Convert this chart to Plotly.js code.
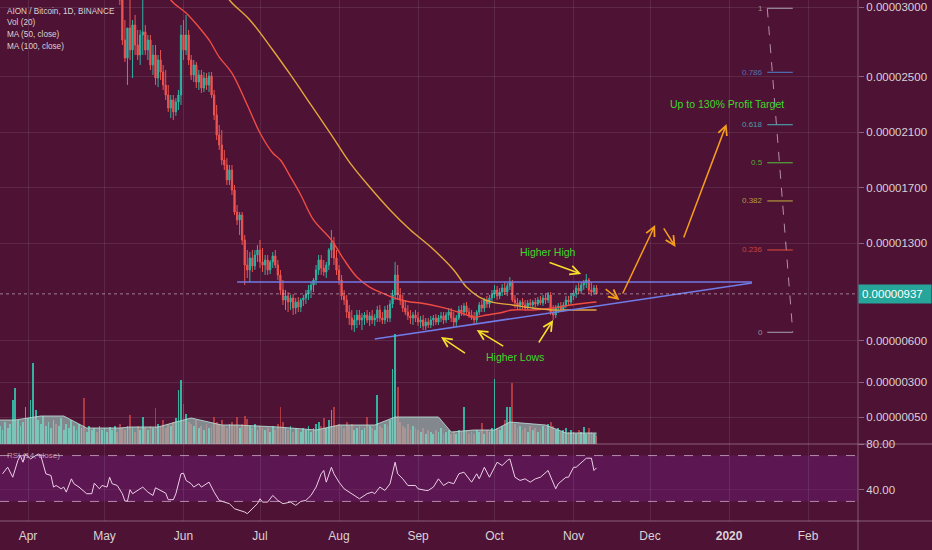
<!DOCTYPE html>
<html><head><meta charset="utf-8">
<script src="https://cdn.plot.ly/plotly-3.0.1.min.js"></script>
<style>html,body{margin:0;padding:0;background:#4e1234;}#chart{width:932px;height:550px;}</style>
</head><body><div id="chart"></div>
<script>
// ---------- DATA (prices in satoshi, 1 sat = 0.00000001 BTC) ----------
const candleStart = '2019-05-06';
const candleOpen = [3269,3161,3053,2765,2635,2851,2693,2873,2729,2657,2801,2823,2693,2765,2585,2657,2491,2621,2534,2441,2369,2275,2333,2247,2318,2369,
2801,2693,2801,2621,2513,2585,2462,2513,2419,2491,2441,2506,2369,2225,2081,2009,1901,1865,1757,1829,1685,1526,1469,1505,1325,1145,1109,1195,1138,1217,
1253,1167,1145,1181,1109,1167,1210,1145,1073,965,893,922,878,907,835,878,842,893,907,936,965,1001,1037,1109,1181,1123,1094,1145,1253,1303,1195,
1109,1037,922,893,806,763,713,749,785,749,763,785,749,778,749,763,821,763,749,821,763,864,929,1073,929,893,835,806,778,763,785,
763,734,749,706,734,713,749,763,734,763,778,749,785,806,763,734,763,821,806,850,806,785,763,749,806,857,835,893,864,907,
936,965,922,950,979,950,994,1022,893,871,850,878,857,835,871,857,878,864,893,871,907,893,929,806,785,835,850,828,857,893,878,
922,943,979,958,1001,1015,1037,965,950,979];
const candleHigh = [3341,3233,3125,2909,2801,3053,2909,2945,2837,2837,3053,2873,2801,2801,2729,2729,2657,2693,2585,2549,2441,2369,2369,2347,2405,2873,
2909,2945,2837,2657,2621,2607,2549,2549,2534,2527,2534,2534,2405,2297,2153,2117,1973,1915,1865,1865,1721,1577,1526,1526,1361,1253,1238,1253,1253,1289,
1325,1267,1217,1217,1181,1238,1253,1181,1109,1037,965,950,929,936,907,914,907,929,965,1001,1022,1051,1145,1217,1217,1181,1167,1267,1397,1347,1253,
1145,1073,965,929,857,821,785,821,821,799,806,821,806,821,792,850,857,806,850,857,893,965,1167,1145,979,929,893,857,821,806,821,
806,778,785,763,763,778,785,792,785,806,806,806,835,835,806,785,850,857,871,878,835,821,806,821,878,893,907,922,929,965,
1001,994,979,1008,1022,1015,1058,1037,929,907,893,907,893,893,900,893,907,914,922,929,943,950,950,857,857,871,878,878,922,922,943,
965,1001,1015,1022,1037,1080,1051,1022,1001,1001];
const candleLow = [3089,3017,2729,2607,2441,2621,2491,2657,2621,2585,2657,2657,2621,2549,2513,2441,2426,2477,2405,2333,2247,2203,2189,2218,2261,2297,
2621,2657,2585,2477,2462,2419,2405,2383,2390,2405,2390,2347,2189,2045,1973,1865,1829,1721,1721,1649,1505,1433,1361,1289,1001,1051,1022,1094,1109,1167,
1123,1094,1073,1073,1080,1123,1123,1037,929,857,821,806,821,785,792,806,806,850,864,893,907,950,1001,1073,1073,1066,1051,1109,1195,1145,1073,
1001,893,857,763,713,677,662,691,713,677,713,727,706,720,706,734,734,720,720,734,734,835,893,893,857,806,785,749,720,713,734,
706,691,677,677,691,691,706,713,713,734,720,727,749,734,698,706,749,778,778,785,763,749,720,727,785,806,806,835,835,871,
907,893,900,922,929,922,965,878,835,821,821,828,814,821,835,828,842,850,857,850,864,871,785,749,763,799,806,806,835,850,857,
893,907,936,936,965,979,936,922,929,936];
const candleClose = [3161,3053,2765,2635,2851,2693,2873,2729,2657,2801,2823,2693,2765,2585,2657,2491,2621,2534,2441,2369,2275,2333,2247,2318,2369,2801,
2693,2801,2621,2513,2585,2462,2513,2419,2491,2441,2506,2369,2225,2081,2009,1901,1865,1757,1829,1685,1526,1469,1505,1325,1145,1109,1195,1138,1217,1253,
1167,1145,1181,1109,1167,1210,1145,1073,965,893,922,878,907,835,878,842,893,907,936,965,1001,1037,1109,1181,1123,1094,1145,1253,1303,1195,1109,
1037,922,893,806,763,713,749,785,749,763,785,749,778,749,763,821,763,749,821,763,864,929,1073,929,893,835,806,778,763,785,763,
734,749,706,734,713,749,763,734,763,778,749,785,806,763,734,763,821,806,850,806,785,763,749,806,857,835,893,864,907,936,
965,922,950,979,950,994,1022,893,871,850,878,857,835,871,857,878,864,893,871,907,893,929,806,785,835,850,828,857,893,878,922,
943,979,958,1001,1015,1037,965,950,979,937];

const volStart = '2019-03-21';
const volume = [9,7,11,8,10,22,28,12,9,11,18.5,
13,22,40.5,17,12,10,14,9,11,8,12,10,9,13,7,10,8,12,9,7,10,8,23,6,9,7,8,6,9,7,
8,6,8.5,7,9,6,10,8,7,9,14.5,8,6,9,7,13.5,8,7,9,8,18,10,9,12,8,10,9,11,13,27,32,
20,15,11,10,9,12,8,9,7,10,8,9,13.5,11,10,12,9,8,10,11,9,13.5,8,10,14,12.5,9,8,10,7,
9,8,7,8,6,9,7,10,18.5,11,8,7,9,6,8,7,6,8,7,9,6,8,10,11,9,13,8,12,17,18.5,9,
10,9,8,11,9,10,7,8,9,7,8,13.5,9,8,7,24.5,9,8,10,9,12,37.5,55,28.5,11,9,8,10,7,9,8,
7,6,8,5,7,6,5,7,6,8,5,6,7,5,6,5,7,6,18.5,7,5,6,5,7,6,10.5,5,7,6,8,
32.5,8,7,9,12,18.5,18.5,30.5,10,8,9,7,8,6,9,7,8,6,7,9,8,10,11,9,7,8,6,7,8,6,7,
6,5,7,6,8.5,5,8,6,5,4];
const earlyDownDays = ['2019-04-12','2019-04-23','2019-04-28'];

const volMaDates = ['2019-03-21','2019-03-27','2019-04-06','2019-04-15','2019-04-24','2019-05-07','2019-05-11','2019-05-22','2019-05-29','2019-06-04','2019-06-16','2019-06-22','2019-07-08','2019-07-23','2019-08-01','2019-08-15','2019-08-23','2019-09-09','2019-09-14','2019-09-23','2019-10-01','2019-10-07','2019-10-21','2019-10-29','2019-11-10'];
const volMaValues = [12,12,14,14,8,8,8.5,8.5,11,13,9.5,9.5,8.5,7,9.5,9.5,13.5,13.5,6,7,7,11,9.5,5.5,5.5];

const ma50Dates = ['2019-05-22','2019-05-27','2019-06-02','2019-06-07','2019-06-11','2019-06-15','2019-06-20','2019-06-26','2019-07-01','2019-07-06','2019-07-09','2019-07-13','2019-07-17','2019-07-22','2019-07-29','2019-08-03','2019-08-08','2019-08-13','2019-08-18','2019-08-24','2019-08-29','2019-09-02','2019-09-10','2019-09-18','2019-09-23','2019-09-28','2019-10-03','2019-10-08','2019-10-16','2019-10-24','2019-10-31','2019-11-06','2019-11-10'];
const ma50Values = [3233,3053,2959,2858,2765,2642,2527,2297,2095,1951,1901,1778,1649,1469,1325,1181,1058,986,943,900,878,871,842,799,770,785,799,821,821,835,857,871,878];

const ma100Dates = ['2019-06-13','2019-06-19','2019-06-27','2019-07-06','2019-07-13','2019-07-21','2019-07-29','2019-08-05','2019-08-13','2019-08-21','2019-08-29','2019-09-06','2019-09-15','2019-09-20','2019-09-25','2019-09-30','2019-10-08','2019-10-16','2019-10-24','2019-10-31','2019-11-10'];
const ma100Values = [3233,3053,2909,2693,2513,2297,2081,1887,1706,1541,1397,1274,1109,986,914,878,857,835,821,821,821];

const rsiDates = ['2019-03-22','2019-03-24','2019-03-26','2019-03-28','2019-03-29','2019-03-30','2019-03-31','2019-04-02','2019-04-03','2019-04-05','2019-04-06','2019-04-08','2019-04-10','2019-04-11','2019-04-12','2019-04-14','2019-04-15','2019-04-16','2019-04-18','2019-04-19','2019-04-21','2019-04-24','2019-04-26','2019-04-27','2019-04-29','2019-04-30',
'2019-05-02','2019-05-03','2019-05-04','2019-05-06','2019-05-08','2019-05-09','2019-05-10','2019-05-11','2019-05-12','2019-05-14','2019-05-16','2019-05-18','2019-05-20','2019-05-21','2019-05-23','2019-05-25','2019-05-26','2019-05-28','2019-05-29','2019-05-31',
'2019-06-01','2019-06-02','2019-06-04','2019-06-05','2019-06-07','2019-06-08','2019-06-09','2019-06-11','2019-06-13','2019-06-15','2019-06-17','2019-06-19','2019-06-21','2019-06-23','2019-06-25','2019-06-26','2019-06-27','2019-06-28','2019-06-30',
'2019-07-01','2019-07-02','2019-07-04','2019-07-06','2019-07-08','2019-07-10','2019-07-13','2019-07-15','2019-07-17','2019-07-19','2019-07-21','2019-07-23','2019-07-25','2019-07-26','2019-07-27','2019-07-29','2019-07-30',
'2019-08-01','2019-08-03','2019-08-05','2019-08-08','2019-08-09','2019-08-12','2019-08-14','2019-08-15','2019-08-17','2019-08-19','2019-08-21','2019-08-23','2019-08-24','2019-08-26','2019-08-28','2019-08-31',
'2019-09-01','2019-09-04','2019-09-05','2019-09-07','2019-09-09','2019-09-11','2019-09-13','2019-09-15','2019-09-17','2019-09-19','2019-09-20','2019-09-22','2019-09-24','2019-09-25','2019-09-27','2019-09-29',
'2019-10-02','2019-10-04','2019-10-06','2019-10-07','2019-10-09','2019-10-11','2019-10-13','2019-10-15','2019-10-17','2019-10-19','2019-10-22','2019-10-23','2019-10-25','2019-10-26','2019-10-29','2019-10-30',
'2019-11-01','2019-11-02','2019-11-04','2019-11-06','2019-11-08','2019-11-09','2019-11-10'];
const rsiValues = [54.1,59.9,51.1,65.7,70,64.2,71.4,67.1,68.6,71.4,70,54.1,52.6,42.5,43.9,41,42.5,38.1,49.7,45.4,42.5,36.7,36.7,45.9,41,43.9,
42.5,51.1,45.4,43.9,36.7,30.3,30.3,40.2,36.7,39.6,42.5,38.1,35.2,41.9,39.6,37.2,31.5,31.5,36.7,54.1,
54.6,48.3,45.4,42.5,45.4,42.5,43.9,46.8,38.1,30.9,29.4,28,23.6,22.2,20.7,19.3,21.6,23.6,28,
32.3,29.4,29.4,35.2,30.9,28,29.4,26.5,30,30.9,35.2,42.5,54.1,57,46.8,59.8,54.1,
46.8,41,38.1,33.7,32.3,36.7,38.1,36.7,42.5,39.6,45.4,64.2,54.1,49.7,43.9,43.9,
41,39.6,39.6,42.5,49.7,43.9,46.8,45.4,54.1,55.5,52.6,46.8,54.1,49.7,59.8,51.1,
64.2,61.3,65.7,67.1,51.1,48.3,49.7,46.8,49.7,51.1,57,51.1,41,45.4,51.1,51.1,
59.8,59.8,64.2,67.7,67.7,57,59.3];

const lastPrice = 937;
const priceTicks = [50,300,600,1300,1700,2100,2500,3000];
const monthTicks = ['2019-04-01','2019-05-01','2019-06-01','2019-07-01','2019-08-01','2019-09-01','2019-10-01','2019-11-01','2019-12-01','2020-01-01','2020-02-01'];
const monthLabels = ['Apr','May','Jun','Jul','Aug','Sep','Oct','Nov','Dec','<b>2020</b>','Feb'];

const resistDates = ['2019-06-22','2020-01-10'];
const resistValues = [1022,1022];
const supportDates = ['2019-08-15','2020-01-10'];
const supportValues = [612,1015];

const fibDates = ['2020-01-16','2020-01-26'];
const fibLabels = ['1','0.786','0.618','0.5','0.382','0.236','0'];
const fibValues = [2993,2532,2155,1881,1606,1253,660];
const fibDiagonal = [2993,660];

// [fromDate, fromValue, toDate, toValue]
const orangeArrows = [['2019-11-13',979,'2019-11-19',893],['2019-11-20',929,'2019-12-03',1433],['2019-12-06',1419,'2019-12-11',1274],['2019-12-14',1332,'2019-12-31',2160]];
const yellowArrows = [['2019-10-22',1167,'2019-11-04',1080],['2019-09-20',504,'2019-09-10',626],['2019-10-05',554,'2019-09-24',677],['2019-10-18',576,'2019-10-24',749]];
const noteTexts = ['Higher High','Higher Lows','Up to 130% Profit Target'];
const noteDates = ['2019-10-22','2019-10-09','2019-12-31'];
const noteValues = [1240,484,2302];

const legendLines = ['AION / Bitcoin, 1D, BINANCE','Vol (20)','MA (50, close)','MA (100, close)'];

// ---------- STYLE ----------
const SAT = 1e-8;
const BG = '#4e1234';
const GRID = 'rgba(255,255,255,0.09)';
const TXT = '#d9d1d6';
const UP = '#2db3a1', DOWN = '#ee5450';
const FONT = 'Liberation Sans, Arial, sans-serif';
const fibColors = ['#9a8e9e','#4f72b8','#4a9aa8','#56a83a','#b39a3e','#c8433c','#9a8e9e'];

function dayList(start, n){
  const t0 = Date.parse(start + 'T00:00:00Z'); const a = [];
  for (let i = 0; i < n; i++) a.push(new Date(t0 + i*864e5).toISOString().slice(0,10));
  return a;
}
const sats = arr => arr.map(v => v*SAT);

const candleDates = dayList(candleStart, candleClose.length);
const volDates = dayList(volStart, volume.length);
const volColors = volDates.map(d => {
  const i = candleDates.indexOf(d);
  let up;
  if (i >= 0) up = candleClose[i] >= candleOpen[i];
  else up = earlyDownDays.indexOf(d) < 0;
  return up ? 'rgba(52,195,172,0.9)' : 'rgba(215,70,72,0.72)';
});

const traces = [];
traces.push({type:'candlestick', x:candleDates, open:sats(candleOpen), high:sats(candleHigh), low:sats(candleLow), close:sats(candleClose),
  xaxis:'x', yaxis:'y', whiskerwidth:0,
  increasing:{line:{color:UP,width:1}, fillcolor:UP}, decreasing:{line:{color:DOWN,width:1}, fillcolor:DOWN}, hoverinfo:'skip'});
traces.push({type:'scatter', mode:'lines', x:ma50Dates, y:sats(ma50Values), line:{color:'#f04c43', width:1.4, shape:'spline'}, xaxis:'x', yaxis:'y', hoverinfo:'skip'});
traces.push({type:'scatter', mode:'lines', x:ma100Dates, y:sats(ma100Values), line:{color:'#e2a63c', width:1.4, shape:'spline'}, xaxis:'x', yaxis:'y', hoverinfo:'skip'});
traces.push({type:'scatter', mode:'lines', x:resistDates, y:sats(resistValues), line:{color:'#6f7be6', width:1.6}, xaxis:'x', yaxis:'y', hoverinfo:'skip'});
traces.push({type:'scatter', mode:'lines', x:supportDates, y:sats(supportValues), line:{color:'#6f7be6', width:1.6}, xaxis:'x', yaxis:'y', hoverinfo:'skip'});
traces.push({type:'scatter', mode:'lines', x:fibDates, y:sats(fibDiagonal), line:{color:'rgba(215,185,205,0.75)', width:1, dash:'dash'}, xaxis:'x', yaxis:'y', hoverinfo:'skip'});
fibValues.forEach((v, i) => {
  traces.push({type:'scatter', mode:'lines', x:fibDates, y:[v*SAT, v*SAT], line:{color:fibColors[i], width:1.2}, xaxis:'x', yaxis:'y', hoverinfo:'skip'});
});
traces.push({type:'bar', x:volDates, y:volume, marker:{color:volColors, line:{width:0}}, width:0.7*864e5, xaxis:'x', yaxis:'y3', hoverinfo:'skip'});
traces.push({type:'scatter', mode:'lines', x:volMaDates, y:volMaValues, fill:'tozeroy', fillcolor:'rgba(165,208,198,0.62)', line:{color:'rgba(185,222,212,0.85)', width:1}, xaxis:'x', yaxis:'y3', hoverinfo:'skip'});
traces.push({type:'scatter', mode:'lines', x:rsiDates, y:rsiValues, line:{color:'#ecd0e6', width:1}, xaxis:'x', yaxis:'y2', hoverinfo:'skip'});

const annotations = [];
legendLines.forEach((t, i) => {
  annotations.push({xref:'paper', yref:'paper', x:0, y:(521-(11+11.7*i))/521, xanchor:'left', yanchor:'middle', xshift:5, text:t, showarrow:false, font:{size:8.2, color:TXT, family:FONT}});
});
annotations.push({xref:'paper', yref:'paper', x:0, y:(521-455)/521, xanchor:'left', yanchor:'middle', xshift:5, text:'RSI (14, close)', showarrow:false, font:{size:8, color:'rgba(215,195,210,0.8)', family:FONT}});
annotations.push({xref:'paper', yref:'y', x:1, y:lastPrice*SAT, xanchor:'left', yanchor:'middle', text:'0.00000' + lastPrice, showarrow:false,
  bgcolor:'#26a69a', font:{size:11.5, color:'#ffffff', family:FONT}, width:66, align:'left', borderpad:3});
fibValues.forEach((v, i) => {
  annotations.push({xref:'x', yref:'y', x:fibDates[0], y:v*SAT, xanchor:'right', yanchor:'middle', xshift:-2, text:fibLabels[i], showarrow:false, font:{size:8, color:fibColors[i], family:FONT}});
});
function arrow(a, color){
  return {xref:'x', yref:'y', axref:'x', ayref:'y', x:a[2], y:a[3]*SAT, ax:a[0], ay:a[1]*SAT, text:'', showarrow:true,
    arrowhead:5, arrowsize:1.2, arrowwidth:1.5, arrowcolor:color, standoff:0, startstandoff:0};
}
orangeArrows.forEach(a => annotations.push(arrow(a, '#f59d1c')));
yellowArrows.forEach(a => annotations.push(arrow(a, '#f4df2a')));
noteTexts.forEach((t, i) => {
  annotations.push({xref:'x', yref:'y', x:noteDates[i], y:noteValues[i]*SAT, text:t, showarrow:false, font:{size:10.5, color:'#3ed82c', family:FONT}});
});

const shapes = [
  {type:'rect', xref:'paper', yref:'y2', x0:0, x1:1, y0:30, y1:70, fillcolor:'#5c1652', line:{width:0}, layer:'below'},
  {type:'line', xref:'paper', yref:'y2', x0:0, x1:1, y0:70, y1:70, line:{color:'rgba(215,180,210,0.75)', width:1, dash:'dash'}},
  {type:'line', xref:'paper', yref:'y2', x0:0, x1:1, y0:30, y1:30, line:{color:'rgba(215,180,210,0.75)', width:1, dash:'dash'}},
  {type:'line', xref:'paper', yref:'y', x0:0, x1:1, y0:lastPrice*SAT, y1:lastPrice*SAT, line:{color:'rgba(225,215,222,0.55)', width:1, dash:'dot'}},
  {type:'line', xref:'paper', yref:'paper', x0:0, x1:932/858, y0:77/521, y1:77/521, line:{color:'rgba(185,160,178,0.55)', width:1.2}},
  {type:'line', xref:'paper', yref:'paper', x0:0, x1:932/858, y0:0, y1:0, line:{color:'rgba(185,160,178,0.55)', width:1.2}},
  {type:'line', xref:'paper', yref:'paper', x0:1, x1:1, y0:-29/521, y1:1, line:{color:'rgba(185,160,178,0.5)', width:1}}
];

const layout = {
  width:932, height:550, margin:{l:0, r:74, t:0, b:29, pad:0},
  paper_bgcolor:BG, plot_bgcolor:BG, showlegend:false,
  font:{family:FONT, color:TXT, size:11},
  xaxis:{type:'date', range:['2019-03-21','2020-02-20 14:00'], anchor:'y2', tickvals:monthTicks, ticktext:monthLabels,
    showgrid:true, gridcolor:GRID, ticks:'', zeroline:false, showline:false, tickfont:{size:12, color:TXT}, ticklabelstandoff:6,
    rangeslider:{visible:false}, fixedrange:true},
  yaxis:{domain:[77/521, 1], range:[-144*SAT, 3052.8*SAT], side:'right', anchor:'x', tickvals:sats(priceTicks), tickformat:'.8f',
    showgrid:true, gridcolor:GRID, ticks:'outside', ticklen:5, tickcolor:'rgba(200,180,195,0.5)', zeroline:false, showline:false,
    tickfont:{size:11.5, color:TXT}, fixedrange:true},
  yaxis2:{domain:[0, 77/521], range:[12.9, 80.1], side:'right', anchor:'x', tickvals:[40,80], ticktext:['40.00','80.00'],
    showgrid:true, gridcolor:'rgba(255,255,255,0.05)', ticks:'outside', ticklen:5, tickcolor:'rgba(200,180,195,0.5)', zeroline:false, showline:false,
    tickfont:{size:11.5, color:TXT}, fixedrange:true},
  yaxis3:{overlaying:'y', range:[0,222], visible:false, anchor:'x', side:'right', fixedrange:true},
  bargap:0, shapes:shapes, annotations:annotations
};

Plotly.newPlot('chart', traces, layout, {displayModeBar:false, staticPlot:true});
</script>
</body></html>
